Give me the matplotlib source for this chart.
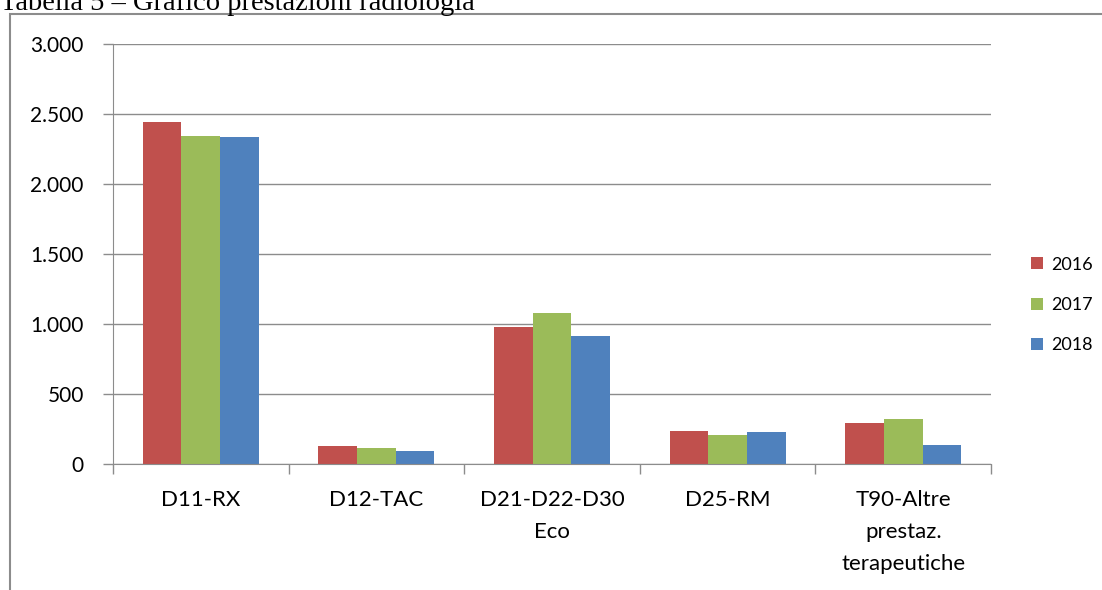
import numpy as np
import matplotlib.pyplot as plt
from matplotlib.patches import Patch, Rectangle
import matplotlib.ticker

# data
categories = ["D11-RX", "D12-TAC", "D21-D22-D30\nEco", "D25-RM", "T90-Altre\nprestaz.\nterapeutiche"]
years = ["2016", "2017", "2018"]
vals_2016 = [2443, 129, 979, 236, 290]
vals_2017 = [2343, 116, 1079, 210, 319]
vals_2018 = [2336, 91, 914, 226, 133]
colors = ["#C0504D", "#9BBB59", "#4F81BD"]

plt.rcParams['font.family'] = ['Lato', 'DejaVu Sans']

W, H = 1102, 590
fig = plt.figure(figsize=(W / 100, H / 100), dpi=100)

# outer chart frame (only top and left visible in the reference)
fig.patches.append(Rectangle((10 / W, -0.1), 1.2, 1 - 14 / H + 0.1, transform=fig.transFigure,
                             fill=False, edgecolor="#8c8c8c", linewidth=1.5))
fig.text(0.0, 1 - 10 / H, "Tabella 5 \u2013 Grafico prestazioni radiologia", family="Liberation Serif",
         fontsize=20.5, ha="left", va="baseline")

ax = fig.add_axes([113 / W, 1 - 464 / H, (991 - 113) / W, (464 - 44) / H])

x = np.arange(len(categories))
w = 0.22
series = [vals_2016, vals_2017, vals_2018]
for i, vals in enumerate(series):
    ax.bar(x + (i - 1) * w, vals, width=w, color=colors[i], label=years[i], zorder=2)

ax.set_xlim(-0.5, len(categories) - 0.5)
ax.set_ylim(0, 3000)
ax.yaxis.set_major_locator(matplotlib.ticker.MultipleLocator(500))
ax.yaxis.set_major_formatter(matplotlib.ticker.FuncFormatter(lambda v, p: f"{int(v):,}".replace(",", ".")))
ax.grid(axis="y", color="#8c8c8c", linewidth=1.0, zorder=0)
ax.set_axisbelow(True)

for s in ["top", "right"]:
    ax.spines[s].set_visible(False)
ax.spines["left"].set_color("#8c8c8c")
ax.spines["bottom"].set_color("#8c8c8c")

ax.set_xticks(x)
ax.set_xticklabels(categories, fontsize=16, linespacing=1.75, va="top")
ax.set_xticks(np.arange(-0.5, len(categories)), minor=True)
ax.tick_params(axis="x", which="major", length=0, pad=19)
ax.tick_params(axis="x", which="minor", length=7, color="#8c8c8c", width=1)
ax.tick_params(axis="y", length=7, color="#8c8c8c", width=1, labelsize=15, pad=14)

handles = [Patch(facecolor=c, label=y) for c, y in zip(colors, years)]
fig.legend(handles=handles, loc="center left", bbox_to_anchor=(1015 / W, 1 - 305 / H),
           frameon=False, fontsize=13, handlelength=0.65, handleheight=0.65, handletextpad=0.45,
           labelspacing=1.35)

fig.savefig("out.png", dpi=100)
